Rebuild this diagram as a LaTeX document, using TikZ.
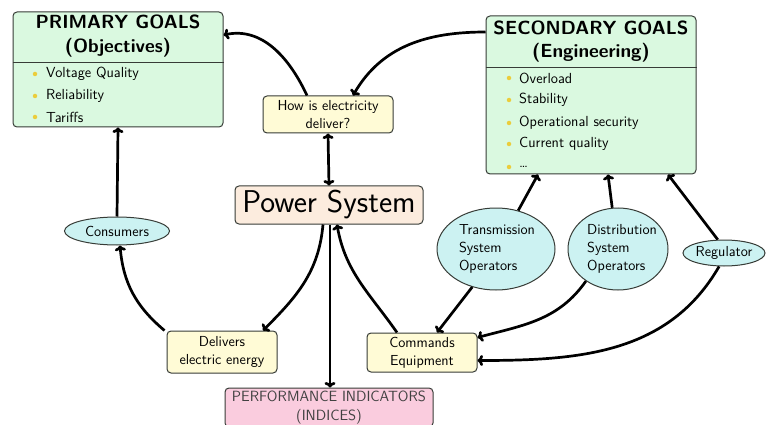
\documentclass[tikz,border=0pt]{standalone}
\usepackage{fontspec}
\usetikzlibrary{shapes.geometric,arrows.meta}
\definecolor{goalfill}{RGB}{218,249,224}
\definecolor{qfill}{RGB}{255,251,214}
\definecolor{psfill}{RGB}{252,236,222}
\definecolor{ellfill}{RGB}{204,242,242}
\definecolor{pifill}{RGB}{250,204,222}
\definecolor{bord}{RGB}{55,60,55}
\definecolor{bul}{RGB}{235,205,60}
\tikzset{
  goalbox/.style={draw=bord, line width=1pt, rounded corners=4pt, fill=goalfill, minimum width=210pt},
  qbox/.style={draw=bord, line width=1pt, rounded corners=4pt, fill=qfill, align=center, inner sep=0pt, font=\sffamily\fontsize{14.5}{18}\selectfont},
  psbox/.style={draw=bord, line width=1pt, rounded corners=4pt, fill=psfill, inner sep=0pt, font=\sffamily\fontsize{31.5}{32}\selectfont},
  pibox/.style={draw=bord, line width=1pt, rounded corners=4pt, fill=pifill, inner sep=0pt, align=center, text=black!75, font=\sffamily\fontsize{14.8}{19}\selectfont},
  ell/.style={draw=bord, line width=1pt, ellipse, fill=ellfill, inner sep=0pt},
  elltext/.style={inner sep=0pt, align=left, font=\sffamily\fontsize{14.5}{18}\selectfont},
  gtitle/.style={font=\sffamily\bfseries\fontsize{19}{20}\selectfont, inner sep=0pt},
  item/.style={font=\sffamily\fontsize{14.6}{16}\selectfont, anchor=west, inner sep=0pt},
  bullet/.style={circle, fill=bul, inner sep=0pt, minimum size=4.5pt},
  arr/.style={line width=2.7pt, -{To[length=5.5pt,width=11pt]}},
  darr/.style={line width=2.7pt, {To[length=5.5pt,width=11pt]}-{To[length=5.5pt,width=11pt]}}
}
\begin{document}
\begin{tikzpicture}[x=1pt,y=1pt]
\useasboundingbox (0,0) rectangle (766,-425);
% primary goals
\node[goalbox, minimum height=115pt] (pg) at (118,-69.5) {};
\draw[bord, line width=1pt] (pg.west |- 0,-63) coordinate (pgl) -- (pg.east |- 0,-63) coordinate (pgr);
\node[gtitle] (pgt1) at (118,-22) {PRIMARY GOALS};
\node[gtitle] (pgt2) at (118,-48) {(Objectives)};
\foreach \t/\y [count=\i] in {Voltage Quality/-74, Reliability/-96, Tariffs/-117}{
  \node[bullet] (pgb\i) at (35,\y) {};
  \node[item] (pgi\i) at (46,\y) {\t};
}
% secondary goals
\node[goalbox, minimum height=158pt] (sg) at (591,-95) {};
\draw[bord, line width=1pt] (sg.west |- 0,-68) coordinate (sgl) -- (sg.east |- 0,-68) coordinate (sgr);
\node[gtitle] (sgt1) at (591,-28) {SECONDARY GOALS};
\node[gtitle] (sgt2) at (591,-53) {(Engineering)};
\foreach \t/\y [count=\i] in {Overload/-78, Stability/-100, Operational security/-123, Current quality/-144, \dots/-167}{
  \node[bullet] (sgb\i) at (509,\y) {};
  \node[item] (sgi\i) at (519,\y) {\t};
}
% question box
\node[qbox, minimum width=130pt, minimum height=37pt] (how) at (328,-114.5) {How is electricity\\deliver?};
% power system
\node[psbox, minimum width=188pt, minimum height=38pt] (ps) at (329,-205) {Power System};
% consumers
\node[ell, minimum width=105pt, minimum height=28pt] (cons) at (117,-231) {};
\node[elltext] (const) at (cons) {Consumers};
% delivers
\node[qbox, minimum width=110pt, minimum height=42pt] (del) at (222,-352) {Delivers\\electric energy};
% commands
\node[qbox, minimum width=110pt, minimum height=39pt] (cmd) at (422,-352.5) {Commands\\Equipment};
% performance
\node[pibox, minimum width=208pt, minimum height=39pt] (pi) at (329,-407.5) {PERFORMANCE INDICATORS\\(INDICES)};
% ellipses
\node[ell, minimum width=118pt, minimum height=82pt] (tso) at (496,-249) {};
\node[elltext] (tsot) at (497,-249) {Transmission\\System\\Operators};
\node[ell, minimum width=100pt, minimum height=82pt] (dso) at (618,-249) {};
\node[elltext, anchor=west] (dsot) at (587,-249) {Distribution\\System\\Operators};
\node[ell, minimum width=82pt, minimum height=26pt] (reg) at (724,-253) {};
\node[elltext] (regt) at (reg) {Regulator};
% connectors
\draw[arr] ([xshift=-21pt]how.north) to[out=115,in=12] ([yshift=34.5pt]pg.east);
\draw[arr] ([yshift=63pt]sg.west) to[out=180,in=60] ([xshift=25pt]how.north);
\draw[darr] (how.south) -- (ps.north);
\draw[arr] (cons.north) -- (pg.south);
\draw[arr] ([xshift=-2pt]del.north west) to[out=140,in=-85] ([xshift=3pt]cons.south);
\draw[arr] ([xshift=-6pt]ps.south) to[out=-95,in=45] ([xshift=41pt]del.north);
\draw[arr] ([xshift=1pt]ps.south) -- ([xshift=1pt]pi.north);
\draw[arr] ([xshift=-25pt]cmd.north) to[out=125,in=-80] ([xshift=8pt]ps.south);
\draw[arr] (tso.60) -- ([xshift=-53pt]sg.south);
\draw[arr] (dso.98) -- ([xshift=17pt]sg.south);
\draw[arr] (reg.115) -- ([xshift=77pt]sg.south);
\draw[arr] (tso.238) -- ([xshift=15pt]cmd.north);
\draw[arr] (dso.225) to[out=-125,in=15] ([yshift=15pt]cmd.east);
\draw[arr] (reg.250) to[out=-120,in=0] ([yshift=-8pt]cmd.east);
\end{tikzpicture}
\end{document}
